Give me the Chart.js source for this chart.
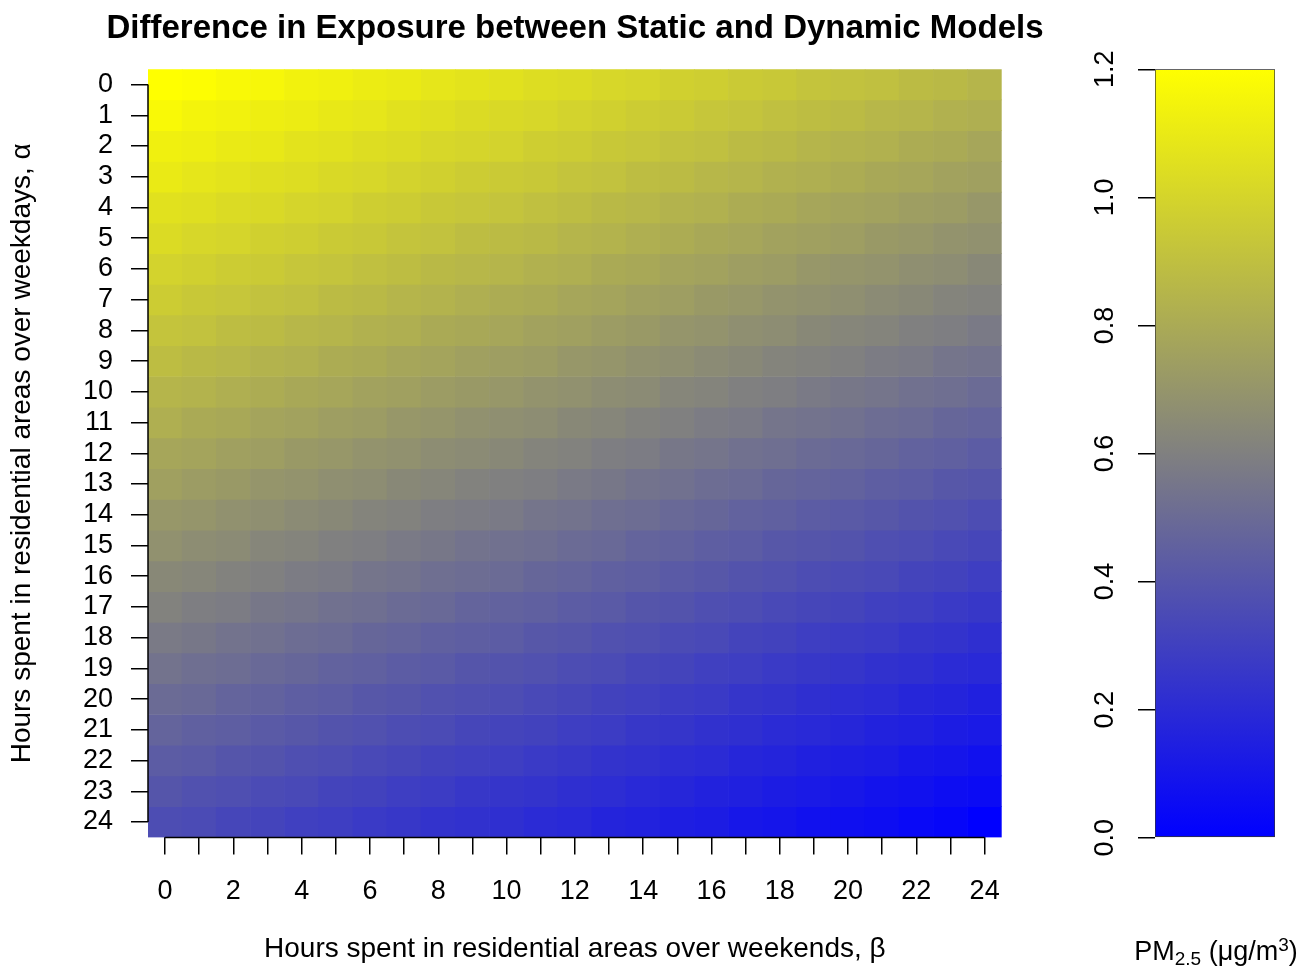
<!DOCTYPE html>
<html>
<head>
<meta charset="utf-8">
<title>Difference in Exposure between Static and Dynamic Models</title>
<script src="https://cdn.jsdelivr.net/npm/chart.js@4.4.0/dist/chart.umd.min.js"></script>
<style>
  body { margin: 0; background: #fff; }
  #wrap { position: relative; width: 1301px; height: 967px; }
  #heatmap { position: absolute; left: 0; top: 0; }
  #colorbar { position: absolute; left: 1040px; top: 0; }
</style>
</head>
<body>
<div id="wrap">
  <canvas id="heatmap" width="1150" height="967"></canvas>
  <canvas id="colorbar" width="261" height="967"></canvas>
</div>
<script>
// Hours over weekdays (rows) and weekends (columns)
const alphaHours = [0, 1, 2, 3, 4, 5, 6, 7, 8, 9, 10, 11, 12, 13, 14, 15, 16, 17, 18, 19, 20, 21, 22, 23, 24];
const betaHours = [0, 1, 2, 3, 4, 5, 6, 7, 8, 9, 10, 11, 12, 13, 14, 15, 16, 17, 18, 19, 20, 21, 22, 23, 24];

// Difference in PM2.5 exposure, one row per alpha value
const exposureDiff = [
  [1.20, 1.19, 1.17, 1.16, 1.14, 1.13, 1.11, 1.10, 1.08, 1.07, 1.06, 1.04, 1.03, 1.01, 1.00, 0.98, 0.97, 0.95, 0.94, 0.92, 0.91, 0.90, 0.88, 0.87, 0.85],
  [1.17, 1.15, 1.14, 1.12, 1.11, 1.09, 1.08, 1.06, 1.05, 1.03, 1.02, 1.01, 0.99, 0.98, 0.96, 0.95, 0.93, 0.92, 0.90, 0.89, 0.88, 0.86, 0.85, 0.83, 0.82],
  [1.13, 1.12, 1.10, 1.09, 1.07, 1.06, 1.04, 1.03, 1.01, 1.00, 0.99, 0.97, 0.96, 0.94, 0.93, 0.91, 0.90, 0.88, 0.87, 0.85, 0.84, 0.83, 0.81, 0.80, 0.78],
  [1.10, 1.08, 1.07, 1.05, 1.04, 1.02, 1.01, 0.99, 0.98, 0.96, 0.95, 0.94, 0.92, 0.91, 0.89, 0.88, 0.86, 0.85, 0.83, 0.82, 0.81, 0.79, 0.78, 0.76, 0.75],
  [1.06, 1.05, 1.03, 1.02, 1.00, 0.99, 0.97, 0.96, 0.94, 0.93, 0.92, 0.90, 0.89, 0.87, 0.86, 0.84, 0.83, 0.81, 0.80, 0.78, 0.77, 0.76, 0.74, 0.73, 0.71],
  [1.03, 1.01, 1.00, 0.98, 0.97, 0.95, 0.94, 0.92, 0.91, 0.89, 0.88, 0.87, 0.85, 0.84, 0.82, 0.81, 0.79, 0.78, 0.76, 0.75, 0.74, 0.72, 0.71, 0.69, 0.68],
  [0.99, 0.98, 0.96, 0.95, 0.93, 0.92, 0.90, 0.89, 0.87, 0.86, 0.85, 0.83, 0.82, 0.80, 0.79, 0.77, 0.76, 0.74, 0.73, 0.71, 0.70, 0.69, 0.67, 0.66, 0.64],
  [0.96, 0.94, 0.93, 0.91, 0.90, 0.88, 0.87, 0.85, 0.84, 0.82, 0.81, 0.80, 0.78, 0.77, 0.75, 0.74, 0.72, 0.71, 0.69, 0.68, 0.67, 0.65, 0.64, 0.62, 0.61],
  [0.92, 0.91, 0.89, 0.88, 0.86, 0.85, 0.83, 0.82, 0.80, 0.79, 0.78, 0.76, 0.75, 0.73, 0.72, 0.70, 0.69, 0.67, 0.66, 0.64, 0.63, 0.62, 0.60, 0.59, 0.57],
  [0.89, 0.87, 0.86, 0.84, 0.83, 0.81, 0.80, 0.78, 0.77, 0.75, 0.74, 0.73, 0.71, 0.70, 0.68, 0.67, 0.65, 0.64, 0.62, 0.61, 0.60, 0.58, 0.57, 0.55, 0.54],
  [0.85, 0.84, 0.82, 0.81, 0.79, 0.78, 0.76, 0.75, 0.73, 0.72, 0.71, 0.69, 0.68, 0.66, 0.65, 0.63, 0.62, 0.60, 0.59, 0.57, 0.56, 0.55, 0.53, 0.52, 0.50],
  [0.82, 0.80, 0.79, 0.77, 0.76, 0.74, 0.73, 0.71, 0.70, 0.68, 0.67, 0.66, 0.64, 0.63, 0.61, 0.60, 0.58, 0.57, 0.55, 0.54, 0.53, 0.51, 0.50, 0.48, 0.47],
  [0.78, 0.77, 0.75, 0.74, 0.72, 0.71, 0.69, 0.68, 0.66, 0.65, 0.64, 0.62, 0.61, 0.59, 0.58, 0.56, 0.55, 0.53, 0.52, 0.50, 0.49, 0.48, 0.46, 0.45, 0.43],
  [0.75, 0.73, 0.72, 0.70, 0.69, 0.67, 0.66, 0.64, 0.63, 0.61, 0.60, 0.59, 0.57, 0.56, 0.54, 0.53, 0.51, 0.50, 0.48, 0.47, 0.46, 0.44, 0.43, 0.41, 0.40],
  [0.71, 0.70, 0.68, 0.67, 0.65, 0.64, 0.62, 0.61, 0.59, 0.58, 0.57, 0.55, 0.54, 0.52, 0.51, 0.49, 0.48, 0.46, 0.45, 0.43, 0.42, 0.41, 0.39, 0.38, 0.36],
  [0.68, 0.66, 0.65, 0.63, 0.62, 0.60, 0.59, 0.57, 0.56, 0.54, 0.53, 0.52, 0.50, 0.49, 0.47, 0.46, 0.44, 0.43, 0.41, 0.40, 0.39, 0.37, 0.36, 0.34, 0.33],
  [0.64, 0.63, 0.61, 0.60, 0.58, 0.57, 0.55, 0.54, 0.52, 0.51, 0.50, 0.48, 0.47, 0.45, 0.44, 0.42, 0.41, 0.39, 0.38, 0.36, 0.35, 0.34, 0.32, 0.31, 0.29],
  [0.61, 0.59, 0.58, 0.56, 0.55, 0.53, 0.52, 0.50, 0.49, 0.47, 0.46, 0.45, 0.43, 0.42, 0.40, 0.39, 0.37, 0.36, 0.34, 0.33, 0.32, 0.30, 0.29, 0.27, 0.26],
  [0.57, 0.56, 0.54, 0.53, 0.51, 0.50, 0.48, 0.47, 0.45, 0.44, 0.43, 0.41, 0.40, 0.38, 0.37, 0.35, 0.34, 0.32, 0.31, 0.29, 0.28, 0.27, 0.25, 0.24, 0.22],
  [0.54, 0.52, 0.51, 0.49, 0.48, 0.46, 0.45, 0.43, 0.42, 0.40, 0.39, 0.38, 0.36, 0.35, 0.33, 0.32, 0.30, 0.29, 0.27, 0.26, 0.25, 0.23, 0.22, 0.20, 0.19],
  [0.50, 0.49, 0.47, 0.46, 0.44, 0.43, 0.41, 0.40, 0.38, 0.37, 0.36, 0.34, 0.33, 0.31, 0.30, 0.28, 0.27, 0.25, 0.24, 0.22, 0.21, 0.20, 0.18, 0.17, 0.15],
  [0.47, 0.45, 0.44, 0.42, 0.41, 0.39, 0.38, 0.36, 0.35, 0.33, 0.32, 0.31, 0.29, 0.28, 0.26, 0.25, 0.23, 0.22, 0.20, 0.19, 0.18, 0.16, 0.15, 0.13, 0.12],
  [0.43, 0.42, 0.40, 0.39, 0.37, 0.36, 0.34, 0.33, 0.31, 0.30, 0.29, 0.27, 0.26, 0.24, 0.23, 0.21, 0.20, 0.18, 0.17, 0.15, 0.14, 0.13, 0.11, 0.10, 0.08],
  [0.40, 0.38, 0.37, 0.35, 0.34, 0.32, 0.31, 0.29, 0.28, 0.26, 0.25, 0.24, 0.22, 0.21, 0.19, 0.18, 0.16, 0.15, 0.13, 0.12, 0.11, 0.09, 0.08, 0.06, 0.05],
  [0.36, 0.35, 0.33, 0.32, 0.30, 0.29, 0.27, 0.26, 0.24, 0.23, 0.22, 0.20, 0.19, 0.17, 0.16, 0.14, 0.13, 0.11, 0.10, 0.08, 0.07, 0.06, 0.04, 0.03, 0.00]
];

// Tick labels
const xTickLabels = [0, 2, 4, 6, 8, 10, 12, 14, 16, 18, 20, 22, 24];
const cbTicks = [0, 0.2, 0.4, 0.6, 0.8, 1.0, 1.2];
const cbTickLabels = ['0.0', '0.2', '0.4', '0.6', '0.8', '1.0', '1.2'];

// Colour ramp blue -> grey -> yellow
const rampStops = [[0, [0, 0, 255]], [0.6, [128, 128, 128]], [1.2, [255, 255, 0]]];

function colorFor(v) {
  let i = 0;
  while (i < rampStops.length - 2 && v > rampStops[i + 1][0]) i++;
  const [v0, c0] = rampStops[i];
  const [v1, c1] = rampStops[i + 1];
  const t = Math.min(1, Math.max(0, (v - v0) / (v1 - v0)));
  const c = c0.map((x, k) => Math.round(x + (c1[k] - x) * t));
  return `rgb(${c[0]}, ${c[1]}, ${c[2]})`;
}

const FONTE = '"Liberation Sans", Arial, Helvetica, sans-serif';
Chart.defaults.font.family = FONTE;
Chart.defaults.color = '#000';

// R-style axis lines that only run from first to last tick
const eixosR = {
  id: 'eixosR',
  afterDraw(chart) {
    const { ctx, chartArea, scales } = chart;
    ctx.save();
    ctx.strokeStyle = '#000';
    ctx.lineWidth = 1.5;
    ctx.beginPath();
    ctx.moveTo(chartArea.left, scales.y.getPixelForValue(alphaHours[0]));
    ctx.lineTo(chartArea.left, scales.y.getPixelForValue(alphaHours[alphaHours.length - 1]));
    ctx.moveTo(scales.x.getPixelForValue(0), chartArea.bottom);
    ctx.lineTo(scales.x.getPixelForValue(betaHours.length - 1), chartArea.bottom);
    ctx.stroke();
    ctx.restore();
  }
};

// Heatmap: one floating-bar dataset per alpha row
const heatmap = new Chart(document.getElementById('heatmap'), {
  type: 'bar',
  data: {
    labels: betaHours.map(String),
    datasets: alphaHours.map((a, i) => ({
      label: 'α = ' + a,
      data: exposureDiff[i].map(() => [a - 0.5, a + 0.5]),
      backgroundColor: exposureDiff[i].map(colorFor),
      borderWidth: 0,
      grouped: false,
      categoryPercentage: 1,
      barPercentage: 1
    }))
  },
  options: {
    responsive: false,
    animation: false,
    layout: { padding: 0 },
    plugins: {
      legend: { display: false },
      tooltip: { enabled: false },
      title: {
        display: true,
        text: 'Difference in Exposure between Static and Dynamic Models',
        color: '#000',
        font: { size: 33, weight: 'bold' },
        padding: { top: 9, bottom: 20.6 }
      }
    },
    scales: {
      x: {
        grid: { drawOnChartArea: false, offset: false, tickLength: 17, color: '#000', lineWidth: 1.5 },
        border: { display: false },
        ticks: {
          autoSkip: false,
          maxRotation: 0,
          padding: 21,
          font: { size: 27 },
          callback: (val, i) => (xTickLabels.includes(betaHours[i]) ? String(betaHours[i]) : '')
        },
        title: {
          display: true,
          text: 'Hours spent in residential areas over weekends, β',
          font: { size: 28 },
          padding: { top: 0, bottom: 1 }
        },
        afterFit: (s) => { s.height = 129.6; }
      },
      y: {
        type: 'linear',
        reverse: true,
        min: -0.5,
        max: 24.5,
        afterBuildTicks: (s) => { s.ticks = alphaHours.map((v) => ({ value: v })); },
        grid: { drawOnChartArea: false, tickLength: 17, color: '#000', lineWidth: 1.5 },
        border: { display: false },
        ticks: { autoSkip: false, padding: 18, font: { size: 27 }, callback: (v) => String(v) },
        title: {
          display: true,
          text: 'Hours spent in residential areas over weekdays, α',
          font: { size: 28 },
          padding: { top: 5, bottom: 0 }
        },
        afterFit: (s) => { s.width = 148; }
      },
      // empty right margin so the title centres over the plot
      margem: {
        type: 'linear',
        position: 'right',
        grid: { display: false },
        border: { display: false },
        ticks: { display: false },
        afterFit: (s) => { s.width = 148.3; }
      }
    }
  },
  plugins: [eixosR]
});

// Rotated colour-bar labels and unit label
const rotulosBarra = {
  id: 'rotulosBarra',
  afterDraw(chart) {
    const { ctx, scales: { y } } = chart;
    ctx.save();
    ctx.fillStyle = '#000';
    ctx.font = '27px ' + FONTE;
    ctx.textAlign = 'center';
    ctx.textBaseline = 'middle';
    cbTicks.forEach((t, i) => {
      ctx.save();
      ctx.translate(y.right - 49, y.getPixelForValue(t));
      ctx.rotate(-Math.PI / 2);
      ctx.fillText(cbTickLabels[i], 0, 0);
      ctx.restore();
    });

    // PM2.5 (μg/m3) with sub/superscript
    const partes = [
      { t: 'PM', size: 27, dy: 0 },
      { t: '2.5', size: 19, dy: 5 },
      { t: ' (μg/m', size: 27, dy: 0 },
      { t: '3', size: 19, dy: -9 },
      { t: ')', size: 27, dy: 0 }
    ];
    ctx.textAlign = 'left';
    ctx.textBaseline = 'alphabetic';
    let total = 0;
    partes.forEach((p) => { ctx.font = p.size + 'px ' + FONTE; p.w = ctx.measureText(p.t).width; total += p.w; });
    let x = 176 - total / 2;
    partes.forEach((p) => {
      ctx.font = p.size + 'px ' + FONTE;
      ctx.fillText(p.t, x, 960 + p.dy);
      x += p.w;
    });
    ctx.restore();
  }
};

// Colour bar
const colorbar = new Chart(document.getElementById('colorbar'), {
  type: 'bar',
  data: {
    labels: [''],
    datasets: [{
      data: [[cbTicks[0], cbTicks[cbTicks.length - 1]]],
      backgroundColor: (c) => {
        const { chart } = c;
        if (!chart.chartArea) return '#888';
        const y = chart.scales.y;
        const g = chart.ctx.createLinearGradient(0, y.getPixelForValue(0), 0, y.getPixelForValue(1.2));
        rampStops.forEach(([v, col]) => g.addColorStop(v / 1.2, `rgb(${col[0]}, ${col[1]}, ${col[2]})`));
        return g;
      },
      borderColor: '#333',
      borderWidth: 1,
      borderSkipped: false,
      categoryPercentage: 1,
      barPercentage: 1
    }]
  },
  options: {
    responsive: false,
    animation: false,
    layout: { padding: { left: 0, right: 26, top: 69.3, bottom: 129.3 } },
    plugins: { legend: { display: false }, tooltip: { enabled: false } },
    scales: {
      x: { display: false },
      y: {
        min: 0,
        max: 1.2,
        afterBuildTicks: (s) => { s.ticks = cbTicks.map((v) => ({ value: v })); },
        grid: { drawOnChartArea: false, tickLength: 17, color: '#000', lineWidth: 1.5 },
        border: { display: false },
        ticks: { display: false },
        afterFit: (s) => { s.width = 115; }
      }
    }
  },
  plugins: [rotulosBarra]
});
</script>
</body>
</html>
